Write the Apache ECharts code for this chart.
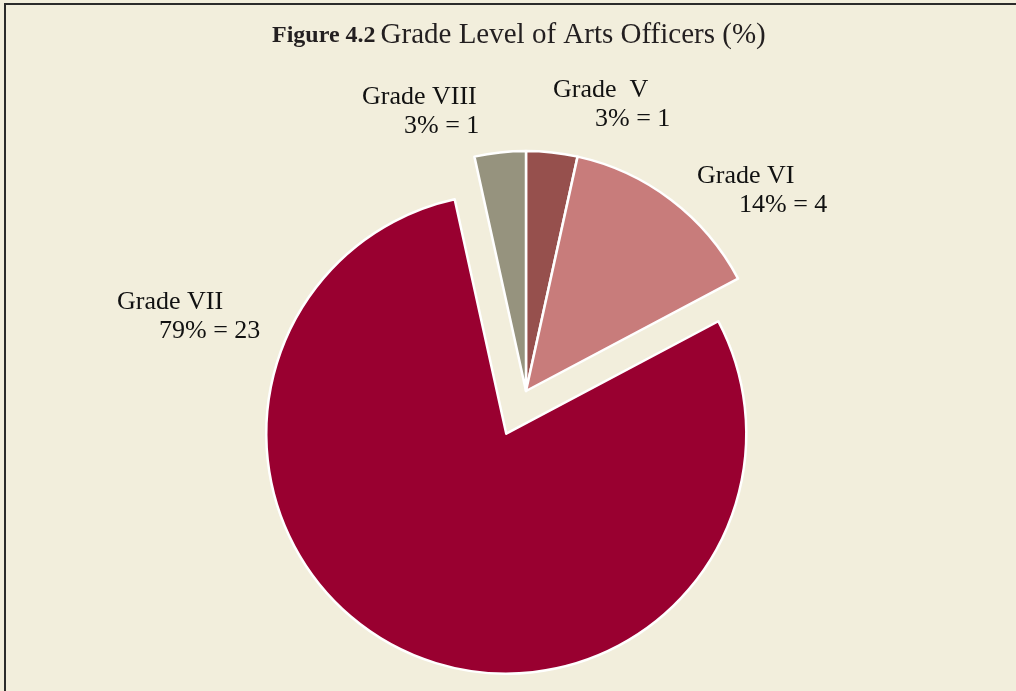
<!DOCTYPE html>
<html>
<head>
<meta charset="utf-8">
<script src="https://cdn.jsdelivr.net/npm/echarts@6/dist/echarts.min.js"></script>
<style>
  html, body { margin: 0; padding: 0; background: #f2eedc; }
  #chart { width: 1016px; height: 691px; }
</style>
</head>
<body>
<div id="chart"></div>
<script>
// data
var grades = ["Grade  V", "Grade VI", "Grade VII", "Grade VIII"];
var counts = [1, 4, 23, 1];
var colors = ["#96504d", "#c87c7b", "#990030", "#96937e"];
var exploded = 2; // Grade VII is pulled out of the pie
// label block top-left corners (label placement only)
var labelPos = [[553, 76], [697, 162], [117, 288], [362, 83]];

var total = counts.reduce(function (a, b) { return a + b; }, 0);
var clear = "rgba(0,0,0,0)";

// series A: the slices in place + all the labels
var dataA = grades.map(function (g, i) {
    return {
        name: g,
        value: counts[i],
        itemStyle: i === exploded ? {color: clear, borderWidth: 0} : {color: colors[i]}
    };
});
// series B: only the exploded slice, pulled out via selection
var dataB = grades.map(function (g, i) {
    return {
        name: g,
        value: counts[i],
        selected: i === exploded,
        itemStyle: i === exploded ? {color: colors[i]} : {color: clear, borderWidth: 0}
    };
});

var pieBase = {
    type: "pie",
    center: [526, 391],
    radius: 240,
    startAngle: 90,
    clockwise: true,
    emphasis: {disabled: true},
    itemStyle: {borderColor: "#ffffff", borderWidth: 2.5},
    labelLine: {show: false}
};

var chart = echarts.init(document.getElementById("chart"));
chart.setOption({
    backgroundColor: "#f2eedc",
    animation: false,
    title: {
        text: "{a|Figure 4.2} {b|Grade Level of Arts Officers (%)}",
        left: 267,
        top: 16,
        textStyle: {
            fontWeight: "normal",
            rich: {
                a: {fontFamily: "Liberation Serif", fontWeight: "bold", fontSize: 24, color: "#231f20"},
                b: {fontFamily: "Liberation Serif", fontWeight: "normal", fontSize: 29, color: "#231f20"}
            }
        }
    },
    graphic: [{
        type: "rect",
        shape: {x: 5, y: 4, width: 1030, height: 710},
        style: {fill: null, stroke: "#2b2b2b", lineWidth: 2},
        silent: true
    }],
    series: [
        Object.assign({}, pieBase, {
            avoidLabelOverlap: false,
            selectedMode: false,
            label: {
                show: true,
                position: "outside",
                formatter: function (p) {
                    var pct = Math.round(p.value / total * 100);
                    return "{a|" + p.name + "}\n{b|" + pct + "% = " + p.value + "}";
                },
                rich: {
                    a: {fontFamily: "Liberation Serif", fontSize: 26, color: "#111", lineHeight: 29},
                    b: {fontFamily: "Liberation Serif", fontSize: 26, color: "#111", lineHeight: 29, padding: [0, 0, 0, 42]}
                }
            },
            labelLayout: function (params) {
                var p = labelPos[params.dataIndex];
                return {x: p[0], y: p[1], align: "left", verticalAlign: "top"};
            },
            data: dataA
        }),
        Object.assign({}, pieBase, {
            silent: true,
            selectedMode: "single",
            selectedOffset: 47,
            label: {show: false},
            data: dataB
        })
    ]
});
</script>
</body>
</html>
